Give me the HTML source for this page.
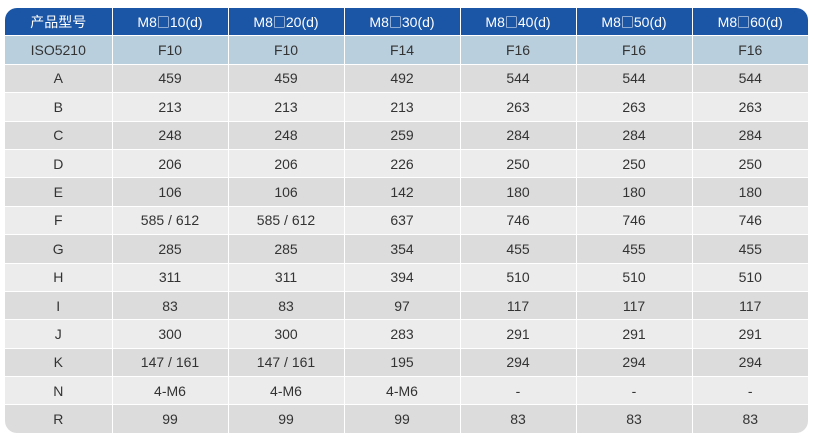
<!DOCTYPE html>
<html><head><meta charset="utf-8"><style>
html,body{margin:0;padding:0;background:#fff;width:820px;height:440px;overflow:hidden}
.wrap{position:absolute;left:5px;top:8px;width:803px;height:425px;border-radius:12px;overflow:hidden}
table{border-collapse:collapse;width:803px;height:425px;table-layout:fixed;font-family:"Liberation Sans","Noto Sans CJK SC",sans-serif;font-size:14px;color:#333}
td{border:1px solid #fff;text-align:center;padding:0;height:27px}
tr.h td{background:#1b55a6;color:#fff;border-top:none}
tr.i td{background:#b9cfdd}
tr.d td{background:#dcdcdc}
tr.l td{background:#ececec}
td:first-child{border-left:none}td:last-child{border-right:none}
tr:last-child td{border-bottom:none}
.b{font-family:"Noto Sans CJK SC",sans-serif;font-size:13px}
</style></head><body><div class="wrap"><table>
<colgroup><col style="width:107px"><col span="6" style="width:116px"></colgroup>
<tr class="h"><td>产品型号</td><td>M8<span class="b">□</span>10(d)</td><td>M8<span class="b">□</span>20(d)</td><td>M8<span class="b">□</span>30(d)</td><td>M8<span class="b">□</span>40(d)</td><td>M8<span class="b">□</span>50(d)</td><td>M8<span class="b">□</span>60(d)</td></tr>
<tr class="i"><td>ISO5210</td><td>F10</td><td>F10</td><td>F14</td><td>F16</td><td>F16</td><td>F16</td></tr>
<tr class="d"><td>A</td><td>459</td><td>459</td><td>492</td><td>544</td><td>544</td><td>544</td></tr>
<tr class="l"><td>B</td><td>213</td><td>213</td><td>213</td><td>263</td><td>263</td><td>263</td></tr>
<tr class="d"><td>C</td><td>248</td><td>248</td><td>259</td><td>284</td><td>284</td><td>284</td></tr>
<tr class="l"><td>D</td><td>206</td><td>206</td><td>226</td><td>250</td><td>250</td><td>250</td></tr>
<tr class="d"><td>E</td><td>106</td><td>106</td><td>142</td><td>180</td><td>180</td><td>180</td></tr>
<tr class="l"><td>F</td><td>585 / 612</td><td>585 / 612</td><td>637</td><td>746</td><td>746</td><td>746</td></tr>
<tr class="d"><td>G</td><td>285</td><td>285</td><td>354</td><td>455</td><td>455</td><td>455</td></tr>
<tr class="l"><td>H</td><td>311</td><td>311</td><td>394</td><td>510</td><td>510</td><td>510</td></tr>
<tr class="d"><td>I</td><td>83</td><td>83</td><td>97</td><td>117</td><td>117</td><td>117</td></tr>
<tr class="l"><td>J</td><td>300</td><td>300</td><td>283</td><td>291</td><td>291</td><td>291</td></tr>
<tr class="d"><td>K</td><td>147 / 161</td><td>147 / 161</td><td>195</td><td>294</td><td>294</td><td>294</td></tr>
<tr class="l"><td>N</td><td>4-M6</td><td>4-M6</td><td>4-M6</td><td>-</td><td>-</td><td>-</td></tr>
<tr class="d"><td>R</td><td>99</td><td>99</td><td>99</td><td>83</td><td>83</td><td>83</td></tr>
</table></div></body></html>
